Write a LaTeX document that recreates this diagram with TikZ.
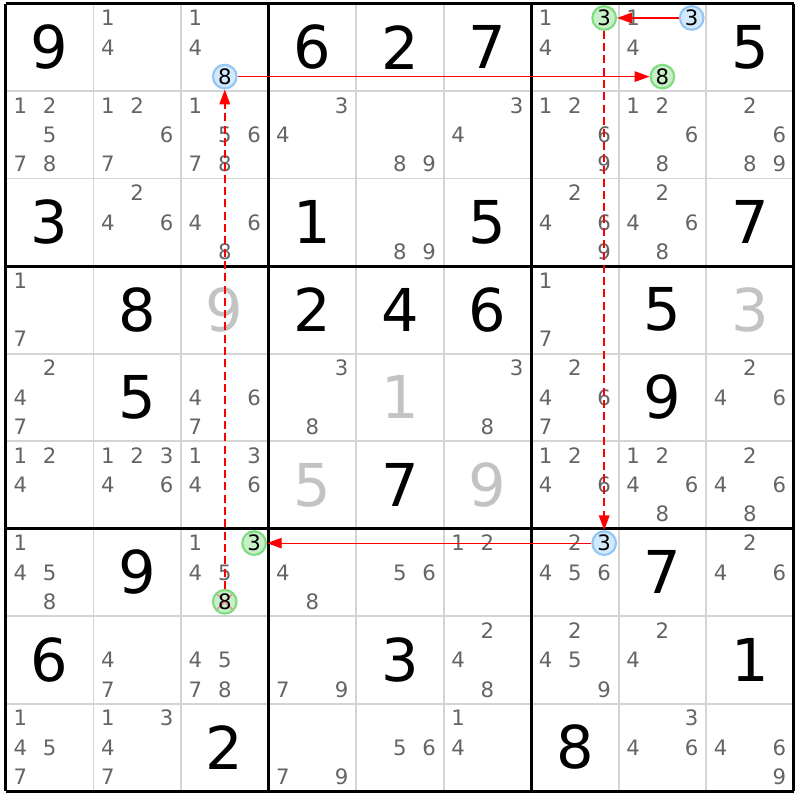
\documentclass[tikz,border=0pt]{standalone}
\usepackage{fontspec}
\setmainfont{DejaVu Sans}
\usepackage{tikz}
\usetikzlibrary{arrows.meta}
\definecolor{candgray}{HTML}{646464}
\definecolor{placedgray}{HTML}{C3C3C3}
\definecolor{thingray}{HTML}{D4D4D4}
\definecolor{hlgreenfill}{HTML}{C8F0C8}
\definecolor{hlgreenline}{HTML}{80DC80}
\definecolor{hlbluefill}{HTML}{D2E8FC}
\definecolor{hlblueline}{HTML}{94C6F4}
\definecolor{xpink}{HTML}{F29090}
\tikzset{
  given/.style={inner sep=0pt, font=\fontsize{19.2}{20}\selectfont, text=black},
  placed/.style={inner sep=0pt, font=\fontsize{19.2}{20}\selectfont, text=placedgray},
  cand/.style={inner sep=0pt, font=\fontsize{6.9}{7}\selectfont, text=candgray},
  hlgreen/.style={circle, inner sep=0pt, minimum size=0.27cm, fill=hlgreenfill, draw=hlgreenline, line width=0.7pt, font=\fontsize{6.9}{7}\selectfont},
  hlblue/.style={circle, inner sep=0pt, minimum size=0.27cm, fill=hlbluefill, draw=hlblueline, line width=0.7pt, font=\fontsize{6.9}{7}\selectfont},
  crossed/.style={path picture={\draw[xpink, line width=0.5pt] (path picture bounding box.north west) -- (path picture bounding box.south east) (path picture bounding box.north east) -- (path picture bounding box.south west);}},
  strong/.style={draw=red, line width=0.4pt, -{Triangle[length=4.8pt,width=3.4pt]}},
  weak/.style={draw=red, line width=0.6pt, dash pattern=on 2.6pt off 1.4pt, -{Triangle[length=4.8pt,width=3.4pt]}}
}
\newcommand{\sgiven}[3] {\node at (#2-0.5,#1-0.5) (g#1#2) [given] {#3};}
\newcommand{\splaced}[3] {\node at (#2-0.5,#1-0.5) (g#1#2) [placed] {#3};}
\newcommand{\scands}[3] {\foreach \d in {#3} {\node at ({#2-0.5+0.335*(mod(\d-1,3)-1)},{#1-0.5+0.335*(int((\d-1)/3)-1)}) (k#1#2\d) [cand] {\d};}}
\newcommand{\smark}[4] {\node at ({#2-0.5+0.335*(mod(#3-1,3)-1)},{#1-0.5+0.335*(int((#3-1)/3)-1)}) (k#1#2#3) [#4] {#3};}
\newcommand{\slink}[3] {\draw [#3] (#1) -- (#2);}

\begin{document}
\begin{tikzpicture}[x=1cm,y=-1cm]
\useasboundingbox (-0.068,-0.04) rectangle (9.046,9.10);

% grid
\foreach \i in {1,2,4,5,7,8} {
  \draw [thingray, line width=0.6pt] (\i,0) -- (\i,9);
  \draw [thingray, line width=0.6pt] (0,\i) -- (9,\i);
}
\foreach \i in {0,3,6,9} {
  \draw [black, line width=1pt] (\i,0) -- (\i,9);
  \draw [black, line width=1pt] (0,\i) -- (9,\i);
}

% row 1
\sgiven{1}{1}{9}; \sgiven{1}{4}{6}; \sgiven{1}{5}{2}; \sgiven{1}{6}{7}; \sgiven{1}{9}{5};
\scands{1}{2}{1,4}; \scands{1}{3}{1,4}; \scands{1}{7}{1,4}; \scands{1}{8}{1,4};
% row 2
\scands{2}{1}{1,2,5,7,8}; \scands{2}{2}{1,2,6,7}; \scands{2}{3}{1,5,6,7,8};
\scands{2}{4}{3,4}; \scands{2}{5}{8,9}; \scands{2}{6}{3,4};
\scands{2}{7}{1,2,6,9}; \scands{2}{8}{1,2,6,8}; \scands{2}{9}{2,6,8,9};
% row 3
\sgiven{3}{1}{3}; \sgiven{3}{4}{1}; \sgiven{3}{6}{5}; \sgiven{3}{9}{7};
\scands{3}{2}{2,4,6}; \scands{3}{3}{4,6,8}; \scands{3}{5}{8,9};
\scands{3}{7}{2,4,6,9}; \scands{3}{8}{2,4,6,8};
% row 4
\sgiven{4}{2}{8}; \sgiven{4}{4}{2}; \sgiven{4}{5}{4}; \sgiven{4}{6}{6}; \sgiven{4}{8}{5};
\splaced{4}{3}{9}; \splaced{4}{9}{3};
\scands{4}{1}{1,7}; \scands{4}{7}{1,7};
% row 5
\sgiven{5}{2}{5}; \sgiven{5}{8}{9}; \splaced{5}{5}{1};
\scands{5}{1}{2,4,7}; \scands{5}{3}{4,6,7}; \scands{5}{4}{3,8};
\scands{5}{6}{3,8}; \scands{5}{7}{2,4,6,7}; \scands{5}{9}{2,4,6};
% row 6
\sgiven{6}{5}{7}; \splaced{6}{4}{5}; \splaced{6}{6}{9};
\scands{6}{1}{1,2,4}; \scands{6}{2}{1,2,3,4,6}; \scands{6}{3}{1,3,4,6};
\scands{6}{7}{1,2,4,6}; \scands{6}{8}{1,2,4,6,8}; \scands{6}{9}{2,4,6,8};
% row 7
\sgiven{7}{2}{9}; \sgiven{7}{8}{7};
\scands{7}{1}{1,4,5,8}; \scands{7}{3}{1,4,5}; \scands{7}{4}{4,8};
\scands{7}{5}{5,6}; \scands{7}{6}{1,2}; \scands{7}{7}{2,4,5,6}; \scands{7}{9}{2,4,6};
% row 8
\sgiven{8}{1}{6}; \sgiven{8}{5}{3}; \sgiven{8}{9}{1};
\scands{8}{2}{4,7}; \scands{8}{3}{4,5,7,8}; \scands{8}{4}{7,9};
\scands{8}{6}{2,4,8}; \scands{8}{7}{2,4,5,9}; \scands{8}{8}{2,4};
% row 9
\sgiven{9}{3}{2}; \sgiven{9}{7}{8};
\scands{9}{1}{1,4,5,7}; \scands{9}{2}{1,3,4,7}; \scands{9}{4}{7,9};
\scands{9}{5}{5,6}; \scands{9}{6}{1,4}; \scands{9}{8}{3,4,6}; \scands{9}{9}{4,6,9};

% chain
\smark{1}{3}{8}{hlblue};
\smark{1}{8}{8}{hlgreen};
\smark{1}{8}{3}{hlblue};
\smark{1}{7}{3}{hlgreen};
\smark{7}{7}{3}{hlblue};
\smark{7}{3}{3}{hlgreen};
\smark{7}{3}{8}{hlgreen, crossed};

\slink{k183}{k173}{strong};
\slink{k138}{k188}{strong};
\slink{k173}{k773}{weak};
\slink{k773}{k733}{strong};
\slink{k738}{k138}{weak};
\end{tikzpicture}
\end{document}
